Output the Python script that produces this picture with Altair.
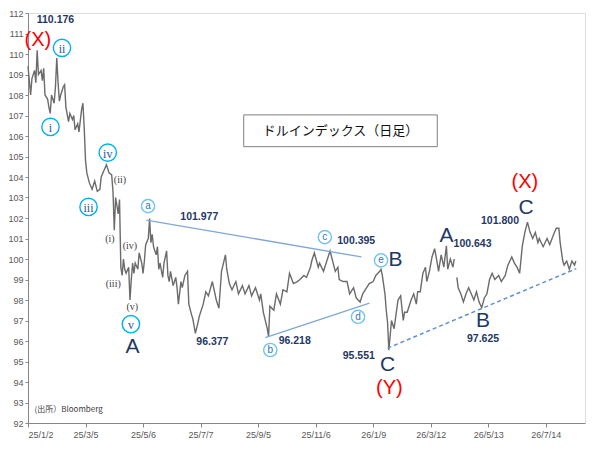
import altair as alt
import pandas as pd

# ---- price series (trading-day index, index level) ----
days = [0, 2, 3, 5, 6, 7, 8, 10, 11, 12, 13, 15, 16, 17, 18, 20, 21, 22, 23, 24, 25, 27, 28, 29,
        31, 32, 34, 35, 36, 38, 39, 41, 42, 43, 44, 45, 47, 49, 51, 53, 55, 56, 58, 60, 62, 64,
        65, 66, 67, 68, 69, 70, 71, 72, 73, 74, 75, 77, 78, 79, 80, 81, 82, 84, 85, 87, 88, 89,
        90, 92, 93, 94, 95, 96, 98, 99, 100, 101, 103, 104, 106, 107, 108, 109, 111, 113, 114,
        115, 117, 118, 120, 121, 122, 123, 125, 126, 128, 130, 131, 134, 136, 138, 141, 144, 146,
        148, 151, 152, 154, 156, 159, 161, 164, 166, 169, 171, 174, 177, 178, 180, 183, 184, 185,
        188, 190, 193, 195, 198, 200, 203, 206, 208, 211, 213, 216, 217, 219, 222, 223, 226, 228,
        231, 233, 235, 237, 238, 241, 244, 246, 249, 251, 254, 256, 259, 261, 264, 266, 269, 270,
        271, 273, 274, 275, 276, 278, 280, 283, 285, 287, 288, 290, 293, 295, 297, 298, 300, 302,
        304, 305, 307, 309, 311, 313, 314, 316, 318, 320, 321, 323, 325, 326,
        328, 329, 331, 333, 335, 337, 339, 341, 343, 345, 347, 349, 351, 353, 355, 357, 360, 362,
        365, 367, 370, 372, 374, 376, 378, 380, 382, 384, 386, 388, 390, 391, 394, 397, 399, 402,
        404, 406, 407, 409, 410, 412, 414, 416, 418, 419]
values = [109.4, 108.0, 108.8, 109.2, 108.6, 110.176, 109.0, 109.2, 108.7, 109.3, 108.0, 107.8,
          107.4, 107.1, 108.0, 107.6, 108.4, 109.8, 108.6, 107.7, 108.0, 108.4, 108.5, 107.4,
          106.7, 107.1, 106.8, 107.0, 106.3, 106.6, 106.2, 107.3, 107.6, 106.4, 104.8, 104.2,
          103.7, 103.4, 103.8, 103.3, 103.4, 104.0, 104.3, 104.6, 104.2, 104.1, 103.3, 101.4,
          103.0, 102.6, 102.2, 102.9, 99.6, 99.2, 100.0, 99.5, 99.3, 99.6, 98.0, 99.0, 99.8,
          99.3, 99.8, 99.5, 100.3, 99.8, 99.3, 99.9, 100.7, 101.0, 101.977, 100.8, 101.2, 100.6,
          100.2, 100.6, 99.5, 99.8, 99.1, 99.8, 100.4, 99.2, 98.9, 99.4, 98.7, 99.1, 98.6, 97.8,
          98.9, 98.6, 99.2, 99.3, 99.4, 97.8, 97.3, 97.1, 96.377, 96.9, 97.2, 97.8, 98.4, 98.2,
          98.9, 98.0, 97.6, 99.4, 100.2, 99.5, 98.8, 98.5, 98.9, 98.3, 98.7, 98.3, 98.7, 98.2,
          98.6, 98.0, 98.3, 97.4, 96.6, 96.218, 97.7, 97.5, 98.3, 97.8, 98.5, 98.4, 99.3, 98.8,
          98.9, 99.0, 99.2, 99.1, 99.6, 99.9, 100.3, 99.6, 99.8, 99.4, 99.8, 100.395, 99.9, 99.4,
          99.6, 99.0, 98.9, 98.9, 98.3, 98.6, 98.1, 97.9, 98.3, 98.6, 98.8, 98.9, 99.2, 99.4,
          99.5, 99.2, 98.3, 97.5, 96.9, 95.551, 97.0, 96.6, 98.0, 98.2, 97.0, 97.4, 97.4, 98.0,
          98.3, 97.8, 98.4, 98.4, 99.3, 99.6, 98.9, 99.4, 100.1, 100.5, 99.8, 99.4, 100.2, 99.6,
          100.643, 99.5, 100.0, 99.6, 100.0,
          99.1, 98.6, 98.3, 97.9, 98.3, 98.6, 98.3, 98.0, 98.4, 97.9, 97.625, 98.1, 98.3, 99.0,
          99.3, 99.0, 99.2, 98.9, 99.2, 99.7, 100.1, 99.8, 99.6, 99.3, 100.6, 101.3, 101.8, 101.3,
          101.0, 101.3, 100.8, 101.0, 100.6, 101.0, 100.7, 101.2, 101.5, 101.5, 100.8, 99.9,
          99.7, 99.9, 99.5, 99.9, 99.7, 99.9]
segment_break_day = 327

x_tick_days = [0, 44, 88, 132, 176, 220, 264, 308, 352, 396]
x_tick_labels = ["25/1/2", "25/3/5", "25/5/6", "25/7/7", "25/9/5", "25/11/6",
                 "26/1/9", "26/3/12", "26/5/13", "26/7/14"]
y_tick_values = list(range(92, 113))

# ---- annotations ----
price_text = ["110.176", "101.977", "96.377", "96.218", "100.395", "95.551", "100.643", "97.625", "101.800"]
price_x = [21, 131, 141, 204, 251, 253, 340, 348, 361]
price_y = [111.65, 102.05, 95.97, 96.0, 100.89, 95.25, 100.75, 96.1, 101.86]

wave_text = ["A", "B", "C", "A", "B", "C"]
wave_x = [80, 281, 275, 320, 348, 381]
wave_y = [95.7, 99.93, 94.85, 101.13, 97.0, 102.47]

red_text = ["(X)", "(Y)", "(X)"]
red_x = [7.6, 276.4, 380]
red_y = [110.7, 93.7, 103.75]

paren_text = ["(ii)", "(i)", "(iv)", "(iii)", "(v)"]
paren_x = [70.3, 62.7, 77.9, 65.2, 79.7]
paren_y = [103.87, 100.98, 100.62, 98.78, 97.66]

roman_text = ["ii", "i", "iv", "iii", "v"]
roman_x = [26, 17.2, 61, 46.3, 78.7]
roman_y = [110.3, 106.44, 105.19, 102.54, 96.82]

letter_text = ["a", "b", "c", "d", "e"]
letter_x = [91.8, 185.3, 227, 252.4, 270]
letter_y = [102.58, 95.56, 101.07, 97.18, 99.93]

# trend lines (start/end in day, level)
solid_x1 = [90.5, 181.5]
solid_y1 = [101.9, 96.17]
solid_x2 = [255, 261.2]
solid_y2 = [100.1, 97.85]
dash_x1, dash_y1, dash_x2, dash_y2 = [275], [95.65], [419.3], [99.53]

title_text = "ドルインデックス（日足）"
title_box = dict(x=165, x2=313, y=107.03, y2=105.48)
source_text = "(出所）Bloomberg"

# ---- build chart ----
series = pd.DataFrame({"day": days, "value": values})
series["seg"] = (series["day"] > segment_break_day).astype(int)

xs = alt.Scale(domain=[0, 426], nice=False, zero=False)
ys = alt.Scale(domain=[92, 112], nice=False, zero=False)

label_expr = "[" + ",".join("'%s'" % s for s in x_tick_labels) + "][round(datum.value/44)]"

x_axis = alt.Axis(values=x_tick_days, labelExpr=label_expr, grid=False, title=None,
                  labelFontSize=9, labelColor="#595959", labelFont="Liberation Sans",
                  domainColor="#868686", tickColor="#868686", tickSize=4, labelPadding=3,
                  labelOverlap=False)
y_axis = alt.Axis(values=y_tick_values, grid=False, title=None,
                  labelFontSize=9, labelColor="#595959", labelFont="Liberation Sans",
                  domainColor="#868686", tickColor="#868686", tickSize=3, labelPadding=2,
                  labelOverlap=False, labelBound=False, labelFlush=False)


def X(field):
    return alt.X(field, scale=xs, axis=x_axis)


def Y(field):
    return alt.Y(field, scale=ys, axis=y_axis)


line = alt.Chart(series).mark_line(color="#6b6b6b", strokeWidth=1.4).encode(
    x=X("day:Q"), y=Y("value:Q"), detail="seg:N")


def tdf(t, x, y):
    return pd.DataFrame({"t": t, "x": x, "y": y})


def text_layer(df, **kw):
    return alt.Chart(df).mark_text(**kw).encode(x=X("x:Q"), y=Y("y:Q"), text="t:N")


def circle_layer(df, size, color):
    return alt.Chart(df).mark_point(shape="circle", size=size, filled=True, fill="white",
                                    stroke=color, strokeWidth=1.4, opacity=1).encode(
        x=X("x:Q"), y=Y("y:Q"))


solid = pd.DataFrame({"x": solid_x1, "y": solid_y1, "x2": solid_x2, "y2": solid_y2})
dashed = pd.DataFrame({"x": dash_x1, "y": dash_y1, "x2": dash_x2, "y2": dash_y2})

solid_rules = alt.Chart(solid).mark_rule(color="#7fa7d6", strokeWidth=1.3).encode(
    x=X("x:Q"), y=Y("y:Q"), x2="x2:Q", y2="y2:Q")
dash_rules = alt.Chart(dashed).mark_rule(color="#5b8fd6", strokeWidth=1.5, strokeDash=[4, 3]).encode(
    x=X("x:Q"), y=Y("y:Q"), x2="x2:Q", y2="y2:Q")

box = alt.Chart(pd.DataFrame([title_box])).mark_rect(fill="white", stroke="#7f7f7f", strokeWidth=1).encode(
    x=X("x:Q"), x2="x2:Q", y=Y("y:Q"), y2="y2:Q")
title_df = tdf([title_text], [(title_box["x"] + title_box["x2"]) / 2],
               [(title_box["y"] + title_box["y2"]) / 2])
title_layer = text_layer(title_df, font="Noto Sans CJK JP", fontSize=13, color="#111111")

source_layer = text_layer(tdf([source_text], [5], [92.62]), align="left", font="Noto Sans CJK JP",
                          fontSize=8, color="#404040")

navy = "#1f3864"
layers = [
    line, solid_rules, dash_rules, box, title_layer, source_layer,
    text_layer(tdf(price_text, price_x, price_y), font="Liberation Sans", fontSize=10.5,
               fontWeight="bold", color=navy),
    text_layer(tdf(wave_text, wave_x, wave_y), font="Liberation Sans", fontSize=21, color=navy),
    text_layer(tdf(red_text, red_x, red_y), font="Liberation Sans", fontSize=20, color="#ff0000"),
    text_layer(tdf(paren_text, paren_x, paren_y), font="Liberation Serif", fontSize=10, color="#404040"),
    circle_layer(tdf(roman_text, roman_x, roman_y), 300, "#00b0f0"),
    text_layer(tdf(roman_text, roman_x, roman_y), font="Liberation Serif", fontSize=12, color="#2f5597",
               dy=1),
    circle_layer(tdf(letter_text, letter_x, letter_y), 175, "#6fc3f0"),
    text_layer(tdf(letter_text, letter_x, letter_y), font="Liberation Sans", fontSize=10, color="#2e75b6"),
]

chart = alt.layer(*layers).properties(
    width=557, height=410,
    autosize=alt.AutoSizeParams(type="none"),
    padding={"left": 20, "top": 5, "right": 10, "bottom": 28},
).configure_view(stroke=None).configure(background="white")

chart.save("out.html", embed_options={"renderer": "svg", "actions": False})
